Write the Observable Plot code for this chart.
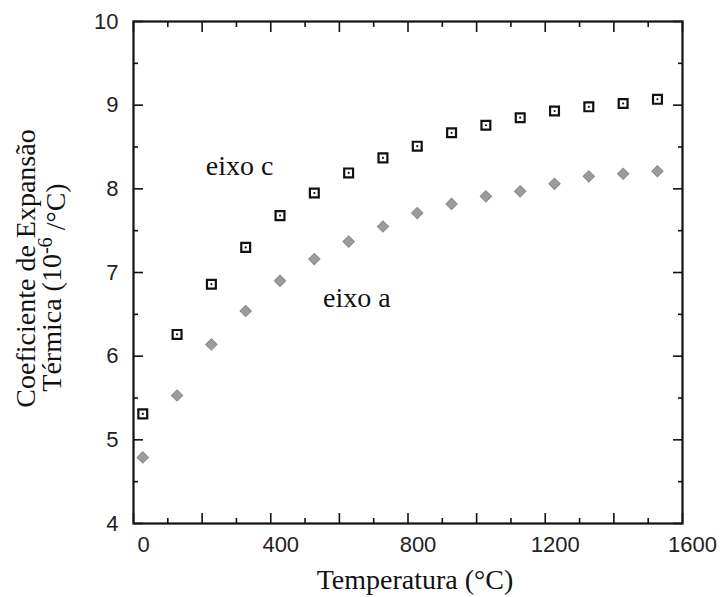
<!DOCTYPE html>
<html>
<head>
<meta charset="utf-8">
<script src="https://cdn.jsdelivr.net/npm/d3@7"></script>
<script src="https://cdn.jsdelivr.net/npm/@observablehq/plot@0.6"></script>
<style>
  body { margin: 0; background: #fff; }
</style>
</head>
<body>
<div id="chart"></div>
<script>
// Thermal expansion coefficient (10^-6 /°C) versus temperature, along the c and a axes
const temperatures = [27, 127, 227, 327, 427, 527, 627, 727, 827, 927, 1027, 1127, 1227, 1327, 1427, 1527];
const axisC = [5.31, 6.26, 6.86, 7.30, 7.68, 7.95, 8.19, 8.37, 8.51, 8.67, 8.76, 8.85, 8.93, 8.98, 9.02, 9.07];
const axisA = [4.79, 5.53, 6.14, 6.54, 6.90, 7.16, 7.37, 7.55, 7.71, 7.82, 7.91, 7.97, 8.06, 8.15, 8.18, 8.21];

// Series annotations, anchored in data coordinates
const seriesNames = ["eixo c", "eixo a"];
const seriesNameT = [309, 651];
const seriesNameV = [8.27, 6.69];

// Axis ticks and labels
const xTickLabels = [0, 400, 800, 1200, 1600];
const xMajorTicks = [0, 200, 400, 600, 800, 1000, 1200, 1400, 1600];
const xMinorTicks = [100, 300, 500, 700, 900, 1100, 1300, 1500];
const yTickLabels = [4, 5, 6, 7, 8, 9, 10];
const yMinorTicks = [4.5, 5.5, 6.5, 7.5, 8.5, 9.5];

const xLabel = "Temperatura (°C)";
const yLabelLine1 = "Coeficiente de Expansão";
const yLabelLine2 = "Térmica (10-6 /°C)";

const cData = temperatures.map((t, i) => ({t, v: axisC[i]}));
const aData = temperatures.map((t, i) => ({t, v: axisA[i]}));
const annotations = seriesNames.map((text, i) => ({text, t: seriesNameT[i], v: seriesNameV[i]}));

const serif = "'Liberation Serif', 'Times New Roman', serif";
const sans = "'Liberation Sans', Arial, sans-serif";
const tickOnly = {fill: "none", label: null, strokeWidth: 1.6, stroke: "#111"};
const plain = d => String(d);

const chart = Plot.plot({
  width: 725,
  height: 597,
  marginLeft: 133,
  marginRight: 43,
  marginTop: 21,
  marginBottom: 74,
  style: {background: "#fff", color: "#111"},
  x: {domain: [0, 1600]},
  y: {domain: [4, 10]},
  marks: [
    // inward tick marks on all four sides
    Plot.axisX(xMajorTicks, {anchor: "bottom", tickSize: -10, ...tickOnly}),
    Plot.axisX(xMinorTicks, {anchor: "bottom", tickSize: -5, ...tickOnly}),
    Plot.axisX(xMajorTicks, {anchor: "top", tickSize: -10, ...tickOnly}),
    Plot.axisX(xMinorTicks, {anchor: "top", tickSize: -5, ...tickOnly}),
    Plot.axisY(yTickLabels, {anchor: "left", tickSize: -10, ...tickOnly}),
    Plot.axisY(yMinorTicks, {anchor: "left", tickSize: -5, ...tickOnly}),
    Plot.axisY(yTickLabels, {anchor: "right", tickSize: -10, ...tickOnly}),
    Plot.axisY(yMinorTicks, {anchor: "right", tickSize: -5, ...tickOnly}),
    // tick labels
    Plot.axisX(xTickLabels, {anchor: "bottom", tickSize: 0, tickPadding: 13, dx: 10,
      tickFormat: plain, label: null, fontSize: 22, fontFamily: sans, fill: "#222"}),
    Plot.axisY(yTickLabels, {anchor: "left", tickSize: 0, tickPadding: 15,
      tickFormat: plain, label: null, fontSize: 22, fontFamily: sans, fill: "#222"}),
    Plot.frame({stroke: "#111", strokeWidth: 2.2}),
    // eixo a: grey diamonds
    Plot.dot(aData, {x: "t", y: "v", symbol: "square", rotate: 45, r: 4.5,
      fill: "#9c9c9c", stroke: "#8a8a8a", strokeWidth: 1}),
    // eixo c: open squares with a centre dot
    Plot.dot(cData, {x: "t", y: "v", symbol: "square", r: 5,
      fill: "#fff", stroke: "#111", strokeWidth: 2.2}),
    Plot.dot(cData, {x: "t", y: "v", r: 1.1, fill: "#111"}),
    // series annotations
    Plot.text(annotations, {x: "t", y: "v", text: "text", fontSize: 28,
      fontFamily: serif, fill: "#111", lineAnchor: "middle"}),
    // axis titles
    Plot.text([xLabel], {frameAnchor: "bottom", dx: 7, dy: 57, fontSize: 28,
      fontFamily: serif, fill: "#111", textAnchor: "middle", lineAnchor: "middle"}),
    Plot.text([yLabelLine1], {frameAnchor: "left", dx: -107, dy: -4, rotate: -90,
      fontSize: 28, fontFamily: serif, fill: "#111", textAnchor: "middle", lineAnchor: "middle"}),
    Plot.text([yLabelLine2], {frameAnchor: "left", dx: -81, dy: 15, rotate: -90,
      fontSize: 28, fontFamily: serif, fill: "#111", textAnchor: "middle", lineAnchor: "middle"})
  ]
});

// Write the "-6" exponent as a superscript
d3.select(chart).selectAll("text")
  .filter(function() { return this.textContent === yLabelLine2; })
  .each(function() {
    const t = d3.select(this);
    t.text(null);
    t.append("tspan").text("Térmica (10");
    t.append("tspan").attr("dy", "-0.45em").attr("font-size", "0.72em").text("-6");
    t.append("tspan").attr("dy", "0.45em").text(" /°C)");
  });

document.getElementById("chart").appendChild(chart);
</script>
</body>
</html>
